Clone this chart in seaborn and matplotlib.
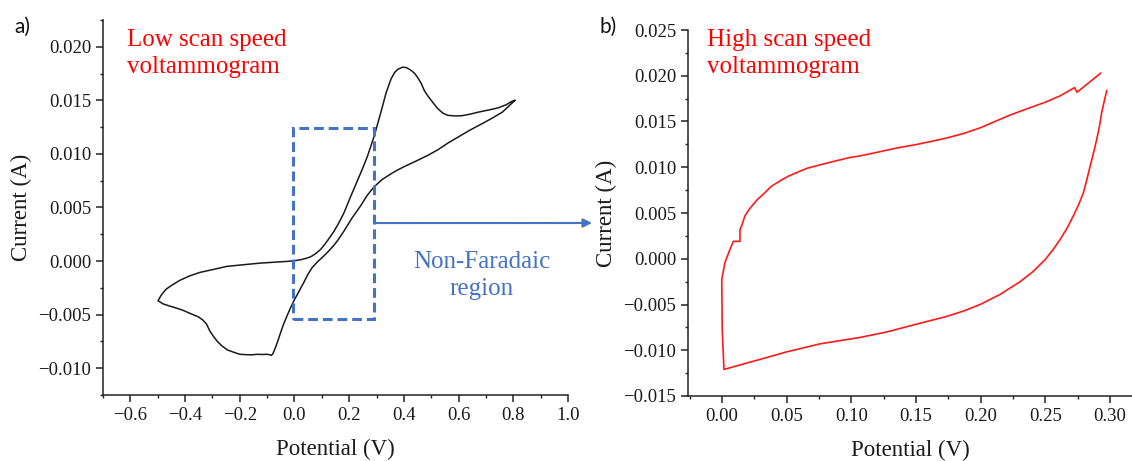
import numpy as np
import pandas as pd
import matplotlib
matplotlib.use("Agg")
import matplotlib.pyplot as plt
import seaborn as sns
from matplotlib.ticker import MultipleLocator, FuncFormatter
from matplotlib.patches import Rectangle

# ---------------- data ----------------
# (a) low scan speed CV: potential (V) and current (A), in scan order
low_potential = [0.806, 0.785, 0.76, 0.72, 0.684, 0.64, 0.60, 0.56, 0.525, 0.49, 0.45, 0.40,
                 0.37, 0.35, 0.32, 0.29, 0.265, 0.243, 0.21, 0.181, 0.16, 0.145, 0.12, 0.10,
                 0.083, 0.065, 0.05, 0.034, 0.015, -0.002, -0.015, -0.027, -0.04, -0.051, -0.06,
                 -0.07, -0.078, -0.084, -0.09, -0.10, -0.12, -0.137, -0.155, -0.174, -0.20,
                 -0.223, -0.245, -0.266, -0.282, -0.297, -0.31, -0.321, -0.335, -0.352, -0.38,
                 -0.407, -0.43, -0.456, -0.48, -0.499, -0.485, -0.468, -0.445, -0.419, -0.385,
                 -0.346, -0.30, -0.248, -0.19, -0.125, -0.07, -0.027, 0.0, 0.022, 0.042, 0.059,
                 0.078, 0.096, 0.112, 0.126, 0.145, 0.163, 0.181, 0.205, 0.23, 0.25, 0.267,
                 0.292, 0.316, 0.335, 0.353, 0.366, 0.378, 0.396, 0.41, 0.426, 0.44, 0.451,
                 0.463, 0.475, 0.488, 0.50, 0.512, 0.525, 0.543, 0.561, 0.585, 0.61, 0.64,
                 0.672, 0.71, 0.745, 0.775, 0.794, 0.806]
low_current = [0.0150, 0.0145, 0.0139, 0.0133, 0.0128, 0.0122, 0.0116, 0.0110, 0.0104, 0.0099,
               0.0094, 0.0088, 0.0084, 0.0081, 0.0076, 0.0069, 0.0061, 0.0052, 0.0040, 0.0028,
               0.0020, 0.0015, 0.0008, 0.0003, -0.0001, -0.0006, -0.0012, -0.0020, -0.0029,
               -0.0037, -0.0044, -0.0051, -0.0059, -0.0067, -0.0074, -0.0081, -0.0086, -0.0088,
               -0.00875, -0.0087, -0.00872, -0.0087, -0.00875, -0.00874, -0.0087, -0.0085,
               -0.0083, -0.0079, -0.0075, -0.0070, -0.0065, -0.0059, -0.0055, -0.0052, -0.0049,
               -0.0046, -0.0044, -0.0042, -0.0040, -0.0037, -0.0031, -0.0026, -0.0022, -0.0018,
               -0.0014, -0.00106, -0.0008, -0.0005, -0.00035, -0.00019, -0.0001, -0.00003,
               0.00003, 0.00012, 0.00025, 0.0004, 0.0007, 0.0011, 0.0016, 0.0021, 0.0028, 0.0036,
               0.0045, 0.0060, 0.0075, 0.0087, 0.0098, 0.0117, 0.0139, 0.0157, 0.0170, 0.0176,
               0.0179, 0.0181, 0.01805, 0.0178, 0.0175, 0.0171, 0.0166, 0.0159, 0.0154, 0.0150,
               0.0146, 0.0142, 0.0138, 0.0136, 0.01355, 0.01356, 0.0137, 0.0139, 0.0141, 0.0143,
               0.0146, 0.0149, 0.0150]

# (b) high scan speed CV: potential (V) and current (A), in scan order
high_potential = [0.2929, 0.2846, 0.2745, 0.2725, 0.2614, 0.2498, 0.236, 0.2227, 0.211, 0.1995,
                  0.187, 0.1738, 0.161, 0.149, 0.135, 0.1222, 0.1067, 0.099, 0.088, 0.0758,
                  0.066, 0.0578, 0.051, 0.0449, 0.038, 0.0319, 0.0275, 0.0242, 0.0205, 0.0178,
                  0.0152, 0.0139, 0.0139, 0.0088, 0.0062, 0.0023, 0.0, -0.0002, 0.0002, 0.0015,
                  0.0191, 0.0345, 0.0493, 0.0758, 0.1067, 0.1274, 0.149, 0.1738, 0.187, 0.1995,
                  0.215, 0.2305, 0.2405, 0.2498, 0.256, 0.2614, 0.267, 0.2717, 0.276, 0.2794,
                  0.282, 0.2846, 0.2875, 0.2898, 0.292, 0.2936, 0.2955, 0.2975]
high_current = [0.0203, 0.01935, 0.0182, 0.0187, 0.0178, 0.0171, 0.0164, 0.0157, 0.0150, 0.0143,
                0.0137, 0.0132, 0.0128, 0.01245, 0.0121, 0.0117, 0.01124, 0.01107, 0.0107,
                0.01026, 0.0099, 0.00942, 0.0090, 0.00852, 0.0079, 0.00705, 0.0065, 0.00596,
                0.0053, 0.0047, 0.0036, 0.0032, 0.0019, 0.0019, 0.00104, -0.0004, -0.0021,
                -0.0025, -0.0078, -0.0121, -0.0114, -0.0108, -0.0102, -0.0093, -0.0086, -0.0080,
                -0.0072, -0.0063, -0.0057, -0.0050, -0.0039, -0.0025, -0.0014, -0.0001, 0.0010,
                0.0021, 0.0034, 0.0047, 0.0060, 0.0072, 0.0086, 0.0101, 0.0117, 0.0131, 0.0146,
                0.0160, 0.0172, 0.0184]

low_df = pd.DataFrame({"Potential": low_potential, "Current": low_current})
high_df = pd.DataFrame({"Potential": high_potential, "Current": high_current})

# ---------------- style ----------------
sns.set_theme(style="ticks")
plt.rcParams["font.family"] = ["Liberation Serif", "DejaVu Serif"]
plt.rcParams["axes.linewidth"] = 1.1
plt.rcParams["xtick.major.width"] = 1.1
plt.rcParams["ytick.major.width"] = 1.1
plt.rcParams["xtick.minor.width"] = 1.0
plt.rcParams["ytick.minor.width"] = 1.0
plt.rcParams["xtick.major.size"] = 5
plt.rcParams["ytick.major.size"] = 5
plt.rcParams["xtick.minor.size"] = 2.5
plt.rcParams["ytick.minor.size"] = 2.5
plt.rcParams["axes.edgecolor"] = "#222222"
plt.rcParams["xtick.color"] = "#222222"
plt.rcParams["ytick.color"] = "#222222"

BLUE = "#4472C4"
RED = "#FF1A1A"
TICK_FS = 13.5
LABEL_FS = 16.5


def fmt(decimals):
    def f(v, pos):
        s = f"{v:.{decimals}f}"
        if s.startswith("-") and float(s) == 0:
            s = s[1:]
        return s.replace("-", "\u2212")
    return FuncFormatter(f)


W, H = 1132, 461
fig = plt.figure(figsize=(W / 100, H / 100), dpi=100)
ax1 = fig.add_axes([103 / W, 1 - 395 / H, 465 / W, 375 / H])
ax2 = fig.add_axes([688 / W, 1 - 396 / H, (W - 688) / W, 366 / H])

sns.lineplot(data=low_df, x="Potential", y="Current", sort=False, estimator=None,
             color="#1a1a1a", lw=1.1, ax=ax1)
sns.lineplot(data=high_df, x="Potential", y="Current", sort=False, estimator=None,
             color=RED, lw=1.2, ax=ax2)

# axes a
ax1.set_xlim(-0.7, 1.0)
ax1.set_ylim(-0.0125, 0.0225)
ax1.xaxis.set_major_locator(MultipleLocator(0.2))
ax1.xaxis.set_minor_locator(MultipleLocator(0.1))
ax1.yaxis.set_major_locator(MultipleLocator(0.005))
ax1.yaxis.set_minor_locator(MultipleLocator(0.0025))
ax1.xaxis.set_major_formatter(fmt(1))
ax1.yaxis.set_major_formatter(fmt(3))

# axes b
ax2.set_xlim(-0.0263, 0.317)
ax2.set_ylim(-0.015, 0.025)
ax2.xaxis.set_major_locator(MultipleLocator(0.05))
ax2.xaxis.set_minor_locator(MultipleLocator(0.025))
ax2.yaxis.set_major_locator(MultipleLocator(0.005))
ax2.yaxis.set_minor_locator(MultipleLocator(0.0025))
ax2.xaxis.set_major_formatter(fmt(2))
ax2.yaxis.set_major_formatter(fmt(3))

for ax in (ax1, ax2):
    sns.despine(ax=ax)
    ax.tick_params(which="both", direction="out", labelsize=TICK_FS, labelcolor="#1a1a1a")
    ax.set_xlabel("Potential (V)", fontsize=LABEL_FS, labelpad=11, color="#1a1a1a")
    ax.set_ylabel("Current (A)", fontsize=LABEL_FS, color="#1a1a1a")

ax1.yaxis.set_label_coords(-0.153, 0.5)
ax2.yaxis.set_label_coords(-0.16, 0.5)

# non-Faradaic region box and arrow
ax1.add_patch(Rectangle((-0.005, -0.0054), 0.295, 0.01784, fill=False, edgecolor=BLUE,
                        lw=2.2, ls=(0, (3.2, 1.6)), zorder=3))
ax1.annotate("", xy=(592 / W, 1 - 223 / H), xycoords="figure fraction",
             xytext=(0.29, 0.00355), textcoords="data",
             arrowprops=dict(arrowstyle="-|>", color=BLUE, lw=1.5, mutation_scale=13,
                             shrinkA=0, shrinkB=0),
             annotation_clip=False)
fig.text(482 / W, 1 - 295 / H, "Non-Faradaic\nregion", color=BLUE, fontsize=18,
         ha="center", va="baseline", multialignment="center", linespacing=1.28)

# panel annotations
fig.text(127 / W, 1 - 73 / H, "Low scan speed\nvoltammogram", color="#FF0000", fontsize=18,
         ha="left", va="baseline", linespacing=1.28)
fig.text(707 / W, 1 - 73 / H, "High scan speed\nvoltammogram", color="#FF0000", fontsize=18,
         ha="left", va="baseline", linespacing=1.28)
fig.text(22 / W, 1 - 27 / H, "a)", fontsize=15, ha="center", va="center",
         family=["Lato", "DejaVu Sans"], color="#111111")
fig.text(608 / W, 1 - 27 / H, "b)", fontsize=15, ha="center", va="center",
         family=["Lato", "DejaVu Sans"], color="#111111")

fig.savefig("out.png", dpi=100)
